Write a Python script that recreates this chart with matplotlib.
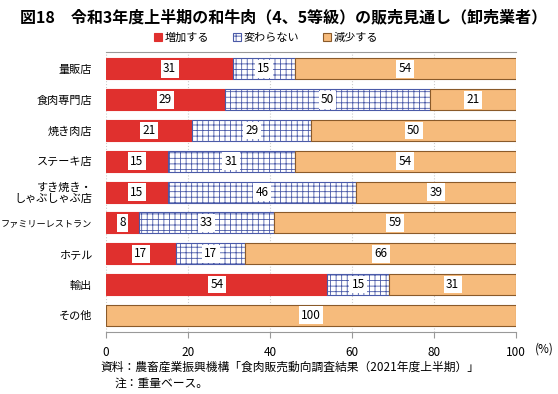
import matplotlib
matplotlib.use("Agg")
import matplotlib.pyplot as plt
import numpy as np

plt.rcParams['font.family'] = ['Noto Sans CJK JP', 'DejaVu Sans']
plt.rcParams['hatch.linewidth'] = 0.6

categories = ["量販店", "食肉専門店", "焼き肉店", "ステーキ店", "すき焼き・\nしゃぶしゃぶ店",
              "ファミリーレストラン", "ホテル", "輸出", "その他"]
increase = [31, 29, 21, 15, 15, 8, 17, 54, 0]
same = [15, 50, 29, 31, 46, 33, 17, 15, 0]
decrease = [54, 21, 50, 54, 39, 59, 66, 31, 100]
series_names = ["増加する", "変わらない", "減少する"]

fig = plt.figure(figsize=(5.58, 3.94), dpi=100)
ax = fig.add_axes([0.19, 0.157, 0.735, 0.711])

y = np.arange(len(categories))
h = 0.68
left = np.zeros(len(categories))
styles = [
    dict(color="#e0302e", edgecolor="#e0302e", hatch=None),
    dict(color="white", edgecolor="#4a5aa8", hatch="+++"),
    dict(color="#f6bb7c", edgecolor="#8a5a2a", hatch=None),
]
for vals, name, st in zip([increase, same, decrease], series_names, styles):
    ax.barh(y, vals, left=left, height=h, color=st["color"], edgecolor=st["edgecolor"],
            hatch=st["hatch"], linewidth=0.8, label=name, zorder=3)
    for yi, (l, v) in enumerate(zip(left, vals)):
        if v > 0:
            ax.text(l + v / 2, yi, str(v), ha="center", va="center", fontsize=8.5, zorder=5,
                    bbox=dict(boxstyle="square,pad=0.2", fc="white", ec="none"))
    left = left + np.array(vals)

ax.set_xlim(0, 100)
ax.set_ylim(len(categories) - 0.45, -0.55)
ax.set_yticks(y)
ax.set_yticklabels(categories, fontsize=8, linespacing=1.15)
for lab in ax.get_yticklabels():
    if lab.get_text() == "ファミリーレストラン":
        lab.set_fontsize(6.6)
ax.tick_params(axis="y", length=0, pad=10)
ax.set_xticks([0, 20, 40, 60, 80, 100])
ax.set_xticklabels(["0", "20", "40", "60", "80", "100"], fontsize=8.5)
ax.tick_params(axis="x", length=4, color="#999999", pad=6, direction="out")
ax.grid(axis="x", color="#cccccc", linestyle=":", linewidth=0.8, zorder=0)
for s in ["left", "right"]:
    ax.spines[s].set_visible(False)
ax.spines["top"].set_color("#999999")
ax.spines["bottom"].set_color("#999999")

ax.legend(loc="lower center", bbox_to_anchor=(0.39, 1.01), ncol=3, frameon=False, fontsize=8,
          handlelength=0.7, handleheight=0.7, handletextpad=0.2, columnspacing=2.2,
          borderaxespad=0.2)

fig.text(0.958, 0.113, "(%)", fontsize=8.5, va="center", ha="left")
fig.text(0.035, 0.955, "図18　令和3年度上半期の和牛肉（4、5等級）の販売見通し（卸売業者）",
         fontsize=11.5, fontweight="bold", va="center")
fig.text(0.18, 0.068, "資料：農畜産業振興機構「食肉販売動向調査結果（2021年度上半期）」",
         fontsize=8.5, va="center")
fig.text(0.205, 0.028, "注：重量ベース。", fontsize=8.5, va="center")

fig.savefig("out.png", dpi=100)
